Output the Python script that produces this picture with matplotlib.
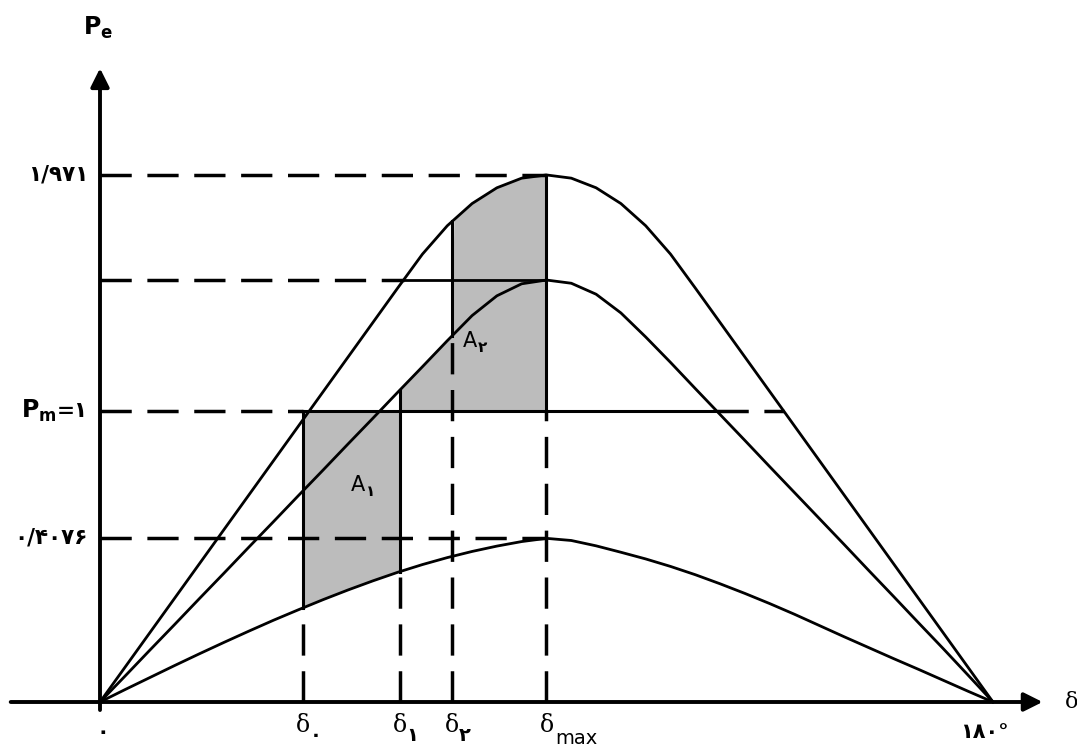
import numpy as np
import matplotlib.pyplot as plt

# power-angle curves, every 5 degrees
delta = [0, 5, 10, 15, 20, 25, 30, 35, 40, 45, 50, 55, 60, 65, 70, 75, 80, 85, 90,
         95, 100, 105, 110, 115, 120, 125, 130, 135, 140, 145, 150, 155, 160, 165, 170, 175, 180]
p_top = [0, 0.129, 0.258, 0.387, 0.516, 0.645, 0.774, 0.903, 1.032, 1.161, 1.290, 1.419,
         1.548, 1.675, 1.781, 1.864, 1.923, 1.959, 1.971,
         1.959, 1.923, 1.864, 1.781, 1.675, 1.548, 1.419, 1.290, 1.161, 1.032, 0.903,
         0.774, 0.645, 0.516, 0.387, 0.258, 0.129, 0]
p_mid = [0, 0.096, 0.193, 0.289, 0.386, 0.482, 0.579, 0.675, 0.772, 0.868, 0.965, 1.061,
         1.158, 1.254, 1.351, 1.445, 1.519, 1.564, 1.578,
         1.566, 1.525, 1.455, 1.365, 1.270, 1.172, 1.075, 0.978, 0.880, 0.783, 0.686,
         0.589, 0.491, 0.394, 0.296, 0.199, 0.100, 0]
p_low = [0, 0.046, 0.091, 0.136, 0.180, 0.223, 0.265, 0.306, 0.345, 0.383, 0.419, 0.453,
         0.485, 0.514, 0.540, 0.563, 0.583, 0.600, 0.612,
         0.604, 0.584, 0.560, 0.535, 0.507, 0.476, 0.442, 0.406, 0.368, 0.328, 0.286,
         0.244, 0.203, 0.162, 0.122, 0.081, 0.040, 0]

# levels as drawn (sketch is not to scale) and their labels
lv_top, lv_mid, lv_pm, lv_low = 1.971, 1.578, 1.088, 0.615
lbl_top, lbl_low = '۱/۹۷۱', '۰/۴۰۷۶'

# marked angles
d0, d1, d2, dmax = 41, 60.5, 71, 90

delta = np.array(delta, float)
p_top = np.array(p_top)
p_mid = np.array(p_mid)
p_low = np.array(p_low)

def at(curve, d):
    return np.interp(d, delta, curve)

# crossings on the right / left flanks
half = 19
pm_mid_r = np.interp(lv_pm, p_mid[half-1:][::-1], delta[half-1:][::-1])
pm_top_r = np.interp(lv_pm, p_top[half-1:][::-1], delta[half-1:][::-1])
mid_top_l = np.interp(lv_mid, p_top[:half], delta[:half])

fig = plt.figure(figsize=(10.77, 7.54), dpi=100)
ax = fig.add_axes([0, 0, 1, 1])
ax.set_xlim(-100 / 4.961, 977 / 4.961)
ax.set_ylim(-52 / 267.4, 702 / 267.4)
ax.axis('off')

k = 'black'
dash = (0, (9, 4.5))
shade = '#bcbcbc'

# shaded areas
xa = np.linspace(d0, d1, 50)
ax.fill_between(xa, at(p_low, xa), lv_pm, color=shade, lw=0)
xb = np.linspace(d1, dmax, 80)
ax.fill_between(xb, lv_pm, np.where(xb < d2, at(p_mid, xb), at(p_top, xb)), color=shade, lw=0)

# curves
for c in (p_top, p_mid, p_low):
    ax.plot(delta, c, color=k, lw=2, solid_joinstyle='round')

# horizontal guide lines
ax.plot([0, dmax], [lv_top, lv_top], color=k, lw=2.5, ls=dash)
ax.plot([0, mid_top_l], [lv_mid, lv_mid], color=k, lw=2.5, ls=dash)
ax.plot([mid_top_l, dmax], [lv_mid, lv_mid], color=k, lw=2)
ax.plot([0, d0], [lv_pm, lv_pm], color=k, lw=2.5, ls=dash)
ax.plot([d0, pm_mid_r], [lv_pm, lv_pm], color=k, lw=2.2)
ax.plot([pm_mid_r, pm_top_r], [lv_pm, lv_pm], color=k, lw=2.5, ls=dash)
ax.plot([0, dmax], [lv_low, lv_low], color=k, lw=2.5, ls=dash)

# vertical lines at the marked angles
ax.plot([d0, d0], [0, at(p_low, d0)], color=k, lw=2.5, ls=dash)
ax.plot([d0, d0], [at(p_low, d0), lv_pm], color=k, lw=2.2)
ax.plot([d1, d1], [0, at(p_low, d1)], color=k, lw=2.5, ls=dash)
ax.plot([d1, d1], [at(p_low, d1), at(p_mid, d1)], color=k, lw=2.2)
ax.plot([d2, d2], [0, at(p_mid, d2)], color=k, lw=2.5, ls=dash)
ax.plot([d2, d2], [at(p_mid, d2), at(p_top, d2)], color=k, lw=2.2)
ax.plot([dmax, dmax], [0, lv_pm], color=k, lw=2.5, ls=dash)
ax.plot([dmax, dmax], [lv_pm, lv_top], color=k, lw=2.2)

# axes with arrow heads
arw = dict(arrowstyle='-|>', color=k, lw=2.8, mutation_scale=28, shrinkA=0, shrinkB=0)
ax.annotate('', xy=(190, 0), xytext=(-18, 0), arrowprops=arw)
ax.annotate('', xy=(0, 2.37), xytext=(0, -0.03), arrowprops=arw)

fam = ['DejaVu Serif', 'DejaVu Sans']
tk = dict(family=fam, fontsize=15.5, fontweight='bold', va='center')

ax.text(-2.4, lv_top, lbl_top, ha='right', **tk)
ax.text(-2.4, lv_low, lbl_low, ha='right', **tk)
ax.text(-2.4, lv_pm, '=۱', ha='right', **tk)
ax.annotate(r'$\mathbf{P_{m}}$', xy=(-2.4, lv_pm), xytext=(-23, 0), textcoords='offset points',
            ha='right', va='center', fontsize=17)
ax.text(-0.3, 2.52, r'$\mathbf{P_{e}}$', ha='center', va='center', fontsize=17)
ax.text(0.6, -0.075, '۰', ha='center', va='top', family=fam, fontsize=15, fontweight='bold')

ax.text(194.5, 0, 'δ', ha='left', va='center', family=fam, fontsize=16)
ax.text(178.3, -0.075, '۱۸۰°', ha='center', va='top', family=fam, fontsize=15, fontweight='bold')

dl = dict(family=fam, fontsize=17, va='top', ha='center')
for d, s in ((d0, '۰'), (d1, '۱'), (d2, '۲')):
    ax.text(d, -0.045, 'δ', **dl)
    ax.annotate(s, xy=(d, -0.045), xytext=(9, -9), textcoords='offset points',
                ha='center', va='top', family=fam, fontsize=14, fontweight='bold')
ax.text(dmax, -0.045, 'δ', **dl)
ax.annotate('max', xy=(dmax, -0.045), xytext=(6, -11), textcoords='offset points',
            ha='left', va='top', family='DejaVu Sans', fontsize=14)

# area labels
ax.text(52, 0.81, 'A', ha='center', va='center', family='DejaVu Sans', fontsize=15)
ax.annotate('۱', xy=(52, 0.81), xytext=(9, -5), textcoords='offset points',
            ha='center', va='center', family=fam, fontsize=11, fontweight='bold')
ax.text(74.5, 1.35, 'A', ha='center', va='center', family='DejaVu Sans', fontsize=15)
ax.annotate('۲', xy=(74.5, 1.35), xytext=(9, -5), textcoords='offset points',
            ha='center', va='center', family=fam, fontsize=11, fontweight='bold')

fig.savefig('out.png', dpi=100, facecolor='white')
